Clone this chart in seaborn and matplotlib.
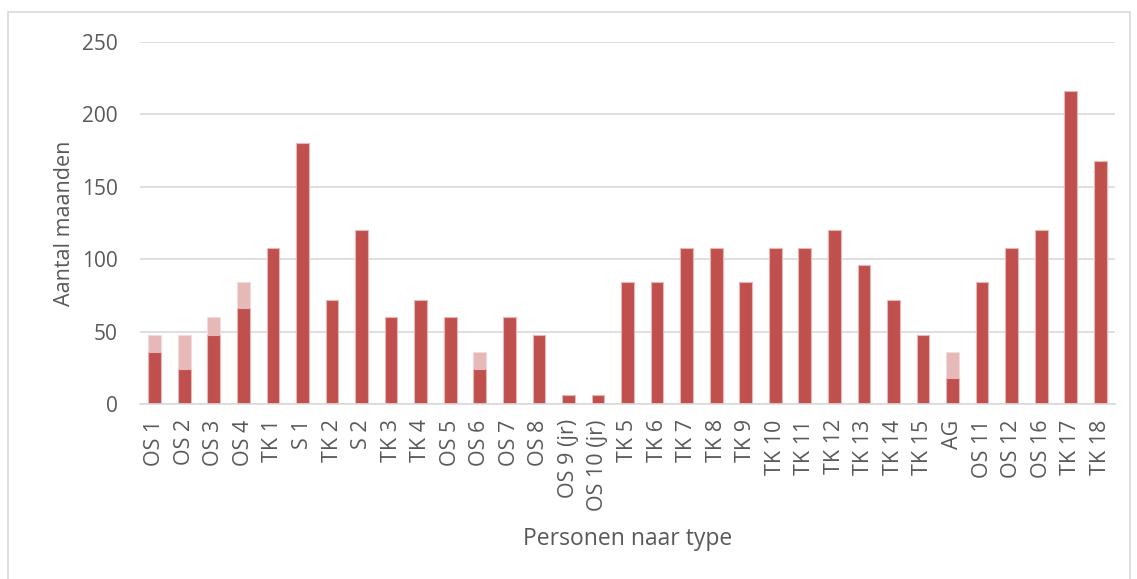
import matplotlib
matplotlib.use("Agg")
import matplotlib.pyplot as plt
import matplotlib.patches as mpatches
import pandas as pd
import seaborn as sns

# personen en aantal maanden (donker = basis, licht = totaal incl. extra)
personen = ["OS 1", "OS 2", "OS 3", "OS 4", "TK 1", "S 1", "TK 2", "S 2", "TK 3", "TK 4",
            "OS 5", "OS 6", "OS 7", "OS 8", "OS 9 (jr)", "OS 10 (jr)", "TK 5", "TK 6",
            "TK 7", "TK 8", "TK 9", "TK 10", "TK 11", "TK 12", "TK 13", "TK 14", "TK 15",
            "AG", "OS 11", "OS 12", "OS 16", "TK 17", "TK 18"]
maanden_basis = [36, 24, 48, 66, 108, 180, 72, 120, 60, 72,
                 60, 24, 60, 48, 6, 6, 84, 84,
                 108, 108, 84, 108, 108, 120, 96, 72, 48,
                 18, 84, 108, 120, 216, 168]
maanden_totaal = [48, 48, 60, 84, 108, 180, 72, 120, 60, 72,
                  60, 36, 60, 48, 6, 6, 84, 84,
                  108, 108, 84, 108, 108, 120, 96, 72, 48,
                  36, 84, 108, 120, 216, 168]

df = pd.DataFrame({"persoon": personen, "basis": maanden_basis, "totaal": maanden_totaal})

sns.set_theme(style="white")
plt.rcParams["font.family"] = ["Open Sans", "DejaVu Sans"]
tekst = "#595959"

fig = plt.figure(figsize=(11.37, 5.79), dpi=100)
ax = fig.add_axes([0.1231, 0.3022, 0.8576, 0.6253])

sns.barplot(data=df, x="persoon", y="totaal", color="#E6B9B8", saturation=1,
            width=0.43, edgecolor="#F2DCDB", linewidth=0.8, ax=ax)
sns.barplot(data=df, x="persoon", y="basis", color="#C0504D", saturation=1,
            width=0.43, edgecolor="#E6B9B8", linewidth=0.8, ax=ax)

ax.set_ylim(0, 250)
ax.set_yticks([0, 50, 100, 150, 200, 250])
ax.set_xlim(-0.5, len(personen) - 0.5)
ax.grid(axis="y", color="#D9D9D9", linewidth=1.2)
ax.set_axisbelow(True)
for s in ["top", "right", "left"]:
    ax.spines[s].set_visible(False)
ax.spines["bottom"].set_color("#D9D9D9")
ax.spines["bottom"].set_linewidth(1.2)

ax.tick_params(axis="x", labelrotation=90, labelsize=15.5, colors=tekst, length=0, pad=11)
ax.tick_params(axis="y", labelsize=15, colors=tekst, length=0, pad=16)
ax.set_xlabel("Personen naar type", fontsize=16.5, color=tekst, labelpad=12)
ax.set_ylabel("Aantal maanden", fontsize=15.5, color=tekst, labelpad=5)

# kader rond de grafiek
fig.patches.append(mpatches.Rectangle((0.007, -0.02), 0.987, 0.999, transform=fig.transFigure,
                                      fill=False, edgecolor="#D9D9D9", linewidth=1.2))

fig.savefig("out.png", dpi=100)
plt.close()
